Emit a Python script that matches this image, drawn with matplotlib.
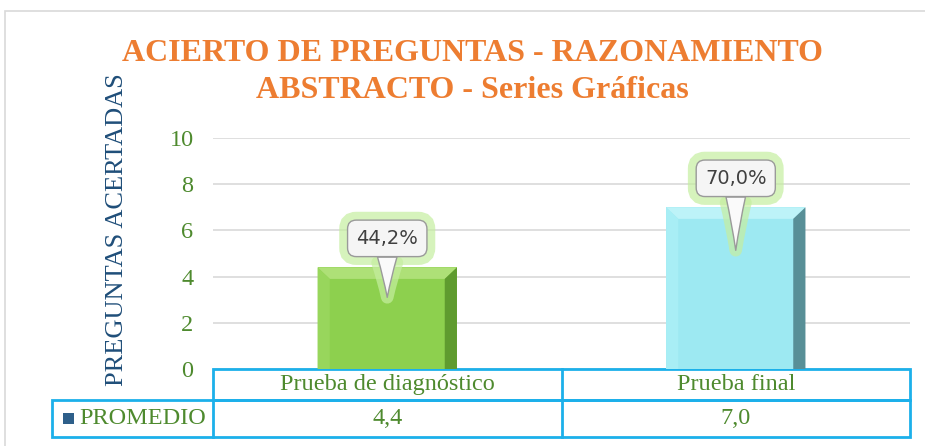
import matplotlib
matplotlib.use("Agg")
import matplotlib.pyplot as plt
import matplotlib.transforms as mtransforms
from matplotlib.patches import Rectangle, Polygon

categories = ["Prueba de diagnóstico", "Prueba final"]
values = [4.4, 7.0]
value_labels = ["4,4", "7,0"]
pct_labels = ["44,2%", "70,0%"]
series_name = "PROMEDIO"
yticks = [0, 2, 4, 6, 8, 10]
title = "ACIERTO DE PREGUNTAS - RAZONAMIENTO\nABSTRACTO - Series Gráficas"
ylabel = "PREGUNTAS ACERTADAS"

face_colors = ["#8DD04E", "#9DE9F2"]
top_colors = ["#AEE077", "#BDF3F8"]
left_colors = ["#98D65C", "#A8EEF5"]
right_colors = ["#5F9B2F", "#588F97"]

W, H = 925, 446
fig = plt.figure(figsize=(W / 100, H / 100), dpi=100)
ax = fig.add_axes([213 / W, 1 - 369 / H, (910 - 213) / W, (369 - 138) / H])

# outer frame
fig.patches.append(Rectangle((5 / W, -0.2), 1.2, 1.2 - 11 / H, transform=fig.transFigure,
                             fill=False, ec="#D9D9D9", lw=1.2))

ax.set_xlim(-0.5, 1.5)
ax.set_ylim(0, 10)
for s in ax.spines.values():
    s.set_visible(False)
ax.set_yticks(yticks)
ax.set_xticks([])
ax.tick_params(axis="y", length=0, pad=14, labelsize=17.5, labelcolor="#4E8A2E")
for lab in ax.get_yticklabels():
    lab.set_fontfamily("Liberation Serif")
ax.grid(axis="y", color="#D9D9D9", lw=1.2)
ax.set_axisbelow(True)

bw = 0.40
bars = ax.bar(range(len(values)), values, width=bw, color=face_colors, zorder=2)

# bevel effect derived from bar geometry
bev_x = 0.035
bev_y = 0.5
for i, b in enumerate(bars):
    x0, x1 = b.get_x(), b.get_x() + b.get_width()
    y1 = b.get_height()
    ax.add_patch(Polygon([(x0, y1), (x1, y1), (x1 - bev_x, y1 - bev_y), (x0 + bev_x, y1 - bev_y)],
                         closed=True, fc=top_colors[i], ec="none", zorder=3))
    ax.add_patch(Polygon([(x0, y1), (x0 + bev_x, y1 - bev_y), (x0 + bev_x, 0), (x0, 0)],
                         closed=True, fc=left_colors[i], ec="none", zorder=3))
    ax.add_patch(Polygon([(x1, y1), (x1 - bev_x, y1 - bev_y), (x1 - bev_x, 0), (x1, 0)],
                         closed=True, fc=right_colors[i], ec="none", zorder=3))

# callouts
for i, v in enumerate(values):
    tip_off = -30 if i == 0 else -43
    tr = mtransforms.offset_copy(ax.transData, fig=fig, y=tip_off, units="dots")
    dy = 29 - tip_off
    for glow in (True, False):
        ax.annotate(
            pct_labels[i], xy=(i, v), xycoords=tr,
            xytext=(0, dy), textcoords="offset pixels",
            ha="center", va="center", fontsize=14, family="DejaVu Sans",
            color=("none" if glow else "#404040"),
            bbox=dict(boxstyle="round,pad=0.45,rounding_size=0.45",
                      fc=("#C5EEA0" if glow else "#F5F5F5"),
                      ec=("#C5EEA0" if glow else "#9A9A9A"),
                      lw=(12 if glow else 1.0), alpha=(0.7 if glow else 1)),
            arrowprops=dict(arrowstyle="wedge,tail_width=1.0,shrink_factor=0.45",
                            fc=("#C5EEA0" if glow else "#FAFAFA"),
                            ec=("#C5EEA0" if glow else "#9A9A9A"),
                            lw=(9 if glow else 1.0), alpha=(0.7 if glow else 1),
                            shrinkA=0, shrinkB=0),
            zorder=5 if glow else 6,
        )

# data table below the plot
blue = "#1CB0EA"
trans = mtransforms.blended_transform_factory(ax.transData, ax.transAxes)
r1 = -31 / 231
r2 = -68 / 231
left_px = 52
left_ax = (left_px - 213) / (910 - 213)
lw = 2.0
ax.add_patch(Rectangle((0, r1), 1, -r1, transform=ax.transAxes, fill=False, ec=blue, lw=lw, clip_on=False))
ax.add_patch(Rectangle((left_ax, r2), 1 - left_ax, r1 - r2, transform=ax.transAxes, fill=False,
                       ec=blue, lw=lw, clip_on=False))
ax.plot([0, 0], [r2, r1], transform=ax.transAxes, color=blue, lw=lw, clip_on=False)
ax.plot([0.5, 0.5], [r2, 0], transform=trans, color=blue, lw=lw, clip_on=False)

tfs = 17.5
for i, c in enumerate(categories):
    ax.text(i, r1 / 2, c, transform=trans, ha="center", va="center", fontsize=tfs,
            family="Liberation Serif", color="#4E8A2E")
    ax.text(i, (r1 + r2) / 2, value_labels[i], transform=trans, ha="center", va="center",
            fontsize=tfs, family="Liberation Serif", color="#4E8A2E")
ax.text((79 - 213) / 697, (r1 + r2) / 2, series_name, transform=ax.transAxes, ha="left", va="center",
        fontsize=tfs, family="Liberation Serif", color="#4E8A2E")
ax.add_patch(Rectangle(((63 - 213) / 697, (r1 + r2) / 2 - 0.025), 11 / 697, 0.05, transform=ax.transAxes,
                       fc="#2E5F8A", ec="none", clip_on=False))

fig.text(472 / W, 1 - 72 / H, title, ha="center", va="center", fontsize=23, fontweight="bold",
         family="Liberation Serif", color="#ED7D31", linespacing=1.35)
fig.text(117 / W, 1 - 230 / H, ylabel, rotation=90, ha="center", va="center", fontsize=19,
         family="Liberation Serif", color="#1F4E79")

fig.savefig("out.png", dpi=100)
